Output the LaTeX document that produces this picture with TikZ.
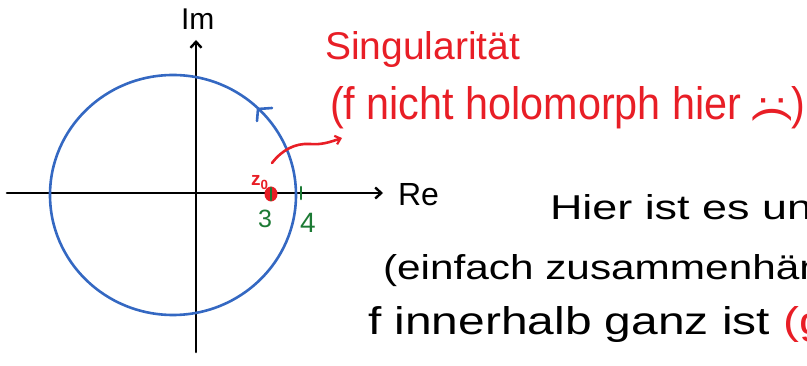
\documentclass[tikz,border=0pt]{standalone}
\usepackage{graphicx}
\usepackage{fontspec}
\setmainfont{Liberation Sans}
\usetikzlibrary{arrows.meta}
\definecolor{hred}{RGB}{232,30,38}
\definecolor{hblue}{RGB}{52,104,194}
\definecolor{hgreen}{RGB}{28,122,52}
\tikzset{
  pen/.style={line width=2.6pt,line cap=round,line join=round},
  axisarrow/.style={pen,-{Straight Barb[length=6pt,width=11pt,line width=2.4pt]}},
  txt/.style={anchor=base west,inner sep=0pt,outer sep=0pt},
}
\begin{document}
\begin{tikzpicture}[x=1pt,y=-1pt]
\useasboundingbox (0,0) rectangle (807,366);
\clip (0,0) rectangle (807,366);
% axes
\coordinate (xs) at (7,193);
\coordinate (xe) at (383,193);
\coordinate (ys) at (196,352);
\coordinate (ye) at (196,40);
\draw[axisarrow] (xs) -- (xe);
\draw[axisarrow] (ys) -- (ye);
% circle
\draw[pen,hblue] (173,195) ellipse [x radius=123pt, y radius=120pt];
\coordinate (c1) at (257,121);
\coordinate (c2) at (258,109);
\coordinate (c3) at (272,108);
\draw[pen,hblue] (c1) -- (c2) -- (c3);
% singularity
\fill[hred] (271,194) ellipse [x radius=6.5pt, y radius=7.5pt];
\coordinate (t3a) at (271,188); \coordinate (t3b) at (271,200);
\coordinate (t4a) at (301,187); \coordinate (t4b) at (301,199);
\draw[pen,hgreen] (t3a) -- (t3b);
\draw[pen,hgreen] (t4a) -- (t4b);
\coordinate (ra) at (272,163);
\coordinate (rb) at (342,138);
\draw[pen,hred,-{Straight Barb[length=5pt,width=9pt,line width=2.2pt]}] (ra) .. controls (282,150) and (295,143) .. (310,144) .. controls (322,145) and (330,142) .. (rb);
% labels
\node[txt,font=\fontsize{30}{32}\selectfont] (im) at (181,30) {Im};
\node[txt,font=\fontsize{32}{34}\selectfont] (re) at (398,206) {Re};
\node[txt,text=hred,font=\bfseries\fontsize{19}{20}\selectfont] (z0) at (251,186) {z\textsubscript{0}};
\node[txt,text=hgreen,font=\fontsize{25}{27}\selectfont] (n3) at (258,228) {3};
\node[txt,text=hgreen,font=\fontsize{28}{30}\selectfont] (n4) at (300,233) {4};
% texts
\node[txt,text=hred] (sing) at (325,60) {\resizebox{195pt}{28pt}{Singularität}};
\node[txt,text=hred] (nh) at (330,120) {\resizebox{475pt}{33pt}{(f nicht holomorph hier \rotatebox[origin=c]{-90}{:(})}};
\node[txt] (l1) at (550,220) {\resizebox{262pt}{25pt}{Hier ist es un}};
\node[txt] (l2) at (383,280) {\resizebox{440pt}{25pt}{(einfach zusammenhän}};
\node[txt] (l3) at (368,335) {\resizebox{458pt}{28pt}{f innerhalb ganz ist \textcolor{hred}{(g}}};
\end{tikzpicture}
\end{document}
